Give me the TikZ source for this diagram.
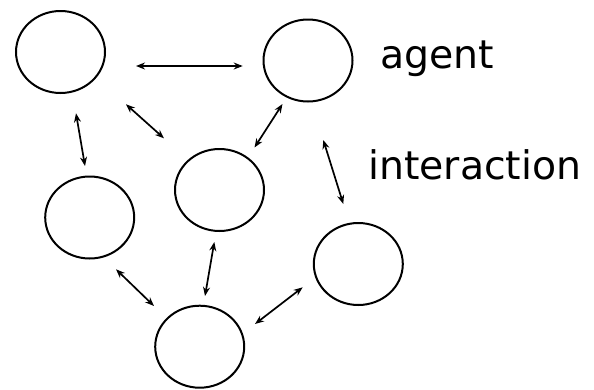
\documentclass[tikz,border=0pt]{standalone}
\usepackage{fontspec}
\setmainfont{DejaVu Sans}
\usetikzlibrary{shapes.geometric,arrows.meta}
\tikzset{
  agent/.style={ellipse, draw=black, line width=2pt, inner sep=0pt, minimum width=89pt, minimum height=82pt},
  link/.style={line width=1.7pt, {Stealth[length=9pt,width=7pt]}-{Stealth[length=9pt,width=7pt]}},
  lbl/.style={anchor=base west, inner sep=0pt, font=\fontsize{39.4}{47}\selectfont}
}
\begin{document}
\begin{tikzpicture}[x=1pt,y=-1pt]
\useasboundingbox (0,0) rectangle (594,389);
\node[agent] (A) at (60.5,52) {};
\node[agent] (B) at (308,60.5) {};
\node[agent] (C) at (219.5,190) {};
\node[agent] (D) at (89.7,217.5) {};
\node[agent] (E) at (358.3,264) {};
\node[agent] (F) at (199.7,346.7) {};
\node[lbl] (agentlbl) at (380.3,68) {agent};
\node[lbl] (interlbl) at (368,179) {interaction};
\coordinate (ab1) at (136,66);   \coordinate (ab2) at (242.7,66);
\coordinate (ac1) at (126,104.3); \coordinate (ac2) at (164,138.3);
\coordinate (bc1) at (282.5,104); \coordinate (bc2) at (254.5,147.5);
\coordinate (ad1) at (76,113.3);  \coordinate (ad2) at (85,166);
\coordinate (be1) at (323.3,140); \coordinate (be2) at (343.3,204);
\coordinate (cf1) at (214.3,242); \coordinate (cf2) at (205,296);
\coordinate (df1) at (116,269.3); \coordinate (df2) at (154,306);
\coordinate (ef1) at (302.7,287.3); \coordinate (ef2) at (255,324);
\draw[link] (ab1) -- (ab2);
\draw[link] (ac1) -- (ac2);
\draw[link] (bc1) -- (bc2);
\draw[link] (ad1) -- (ad2);
\draw[link] (be1) -- (be2);
\draw[link] (cf1) -- (cf2);
\draw[link] (df1) -- (df2);
\draw[link] (ef1) -- (ef2);
\end{tikzpicture}
\end{document}
